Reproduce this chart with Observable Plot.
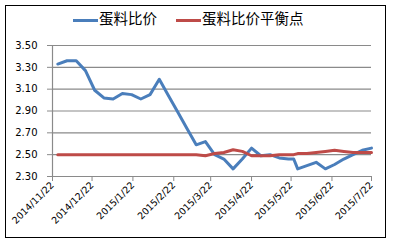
<!DOCTYPE html>
<html>
<head>
<meta charset="utf-8">
<script src="https://cdn.jsdelivr.net/npm/d3@7"></script>
<script src="https://cdn.jsdelivr.net/npm/@observablehq/plot@0.6"></script>
<style>
  html, body { margin: 0; padding: 0; background: #fff; }
  #wrap { position: relative; width: 397px; height: 243px; overflow: hidden; }
  #frame { position: absolute; left: 5px; top: 5px; width: 379px; height: 231px; border: 1.5px solid #000; box-sizing: content-box; pointer-events: none; }
  #legend { position: absolute; top: 9px; left: 0; width: 397px; font-family: "Noto Sans CJK SC", sans-serif; font-size: 14.5px; color: #000; line-height: 18px; }
  .item { position: absolute; top: 0; white-space: nowrap; }
  .sw { display: inline-block; width: 25px; height: 3px; vertical-align: middle; margin-right: 1px; position: relative; top: 0px; }
</style>
</head>
<body>
<div id="wrap">
  <div id="chart"></div>
  <div id="legend"></div>
  <div id="frame"></div>
</div>
<script>
const seriesNames = ["蛋料比价", "蛋料比价平衡点"];
const seriesColors = ["#4a7ebb", "#be4b48"];
const dates = [
  "2014-11-26","2014-12-03","2014-12-10","2014-12-17","2014-12-24","2014-12-31",
  "2015-01-07","2015-01-14","2015-01-21","2015-01-28","2015-02-04","2015-02-11",
  "2015-02-18","2015-02-25","2015-03-04","2015-03-11","2015-03-18","2015-03-25",
  "2015-04-01","2015-04-08","2015-04-15","2015-04-22","2015-04-29","2015-05-06",
  "2015-05-13","2015-05-20","2015-05-24","2015-05-27","2015-06-03","2015-06-10",
  "2015-06-17","2015-06-24","2015-07-01","2015-07-08","2015-07-15","2015-07-22"
];
const ratio = [
  3.33, 3.36, 3.36, 3.27, 3.09, 3.02,
  3.01, 3.06, 3.05, 3.01, 3.05, 3.19,
  3.04, 2.89, 2.74, 2.59, 2.62, 2.50,
  2.46, 2.37, 2.46, 2.56, 2.49, 2.50,
  2.47, 2.46, 2.46, 2.37, 2.40, 2.43,
  2.37, 2.41, 2.46, 2.50, 2.54, 2.56
];
const balance = [
  2.50, 2.50, 2.50, 2.50, 2.50, 2.50,
  2.50, 2.50, 2.50, 2.50, 2.50, 2.50,
  2.50, 2.50, 2.50, 2.50, 2.49, 2.51,
  2.52, 2.545, 2.53, 2.49, 2.49, 2.49,
  2.50, 2.50, 2.50, 2.51, 2.51, 2.52,
  2.53, 2.54, 2.53, 2.52, 2.52, 2.52
];
const xTickLabels = ["2014/11/22","2014/12/22","2015/1/22","2015/2/22","2015/3/22","2015/4/22","2015/5/22","2015/6/22","2015/7/22"];
const yTicks = [2.30, 2.50, 2.70, 2.90, 3.10, 3.30, 3.50];

const parse = s => new Date(s + "T00:00:00Z");
const toDate = lbl => { const [y, m, d] = lbl.split("/").map(Number); return new Date(Date.UTC(y, m - 1, d)); };
const xTicks = xTickLabels.map(toDate);
const fmt = d => `${d.getUTCFullYear()}/${d.getUTCMonth() + 1}/${d.getUTCDate()}`;

const rows = [];
dates.forEach((d, i) => {
  rows.push({date: parse(d), value: ratio[i], series: seriesNames[0]});
});
dates.forEach((d, i) => {
  rows.push({date: parse(d), value: balance[i], series: seriesNames[1]});
});

const plot = Plot.plot({
  width: 397,
  height: 243,
  marginLeft: 52,
  marginRight: 26,
  marginTop: 45,
  marginBottom: 67,
  style: {fontFamily: "DejaVu Sans, sans-serif", fontSize: "10px", color: "#000", background: "transparent"},
  x: {type: "utc", domain: [xTicks[0], xTicks[xTicks.length - 1]]},
  y: {domain: [2.30, 3.50]},
  color: {domain: seriesNames, range: seriesColors},
  marks: [
    Plot.gridY(yTicks, {stroke: "#8a8a8a", strokeOpacity: 1, strokeWidth: 1.2}),
    Plot.axisY(yTicks, {tickSize: 5, tickPadding: 10, tickFormat: d => d.toFixed(2), stroke: "#8a8a8a", label: null, fill: "#000"}),
    Plot.ruleX([xTicks[0]], {stroke: "#8a8a8a", strokeWidth: 1.2}),
    Plot.ruleY([2.30], {stroke: "#8a8a8a", strokeWidth: 1.2}),
    Plot.axisX(xTicks, {tickSize: 5, tickPadding: 2, tickRotate: -45, tickFormat: fmt, stroke: "#8a8a8a", label: null, fill: "#000", fontSize: 9.5}),
    Plot.line(rows, {x: "date", y: "value", z: "series", stroke: "series", strokeWidth: 3, curve: "linear"})
  ]
});
document.getElementById("chart").appendChild(plot);

const legend = document.getElementById("legend");
const positions = [73, 176];
seriesNames.forEach((name, i) => {
  const it = document.createElement("div");
  it.className = "item";
  it.style.left = positions[i] + "px";
  const sw = document.createElement("span");
  sw.className = "sw";
  sw.style.background = seriesColors[i];
  it.appendChild(sw);
  it.appendChild(document.createTextNode(name));
  legend.appendChild(it);
});
</script>
</body>
</html>
